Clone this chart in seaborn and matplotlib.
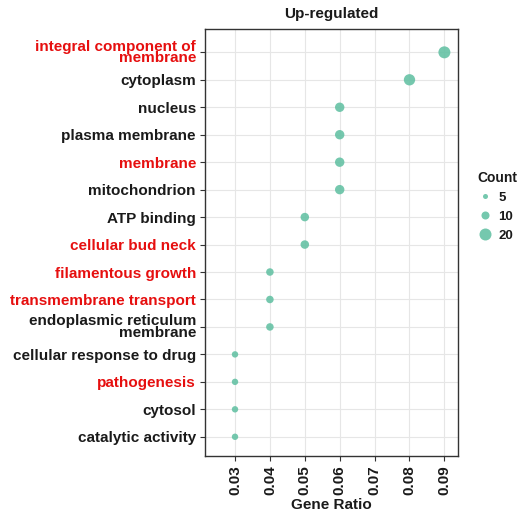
import matplotlib
matplotlib.use("Agg")
import matplotlib.pyplot as plt
from matplotlib.lines import Line2D
import numpy as np
import pandas as pd
import seaborn as sns

# GO terms, top to bottom
terms = [
    "integral component of\nmembrane",
    "cytoplasm",
    "nucleus",
    "plasma membrane",
    "membrane",
    "mitochondrion",
    "ATP binding",
    "cellular bud neck",
    "filamentous growth",
    "transmembrane transport",
    "endoplasmic reticulum\nmembrane",
    "cellular response to drug",
    "pathogenesis",
    "cytosol",
    "catalytic activity",
]
gene_ratio = [0.09, 0.08, 0.06, 0.06, 0.06, 0.06, 0.05, 0.05,
              0.04, 0.04, 0.04, 0.03, 0.03, 0.03, 0.03]
counts = [20, 18, 13, 13, 13, 13, 11, 11, 9, 9, 9, 7, 7, 7, 7]
highlighted = ["integral component of\nmembrane", "membrane", "cellular bud neck",
               "filamentous growth", "transmembrane transport", "pathogenesis"]
legend_counts = [5, 10, 20]
x_ticks = [0.03, 0.04, 0.05, 0.06, 0.07, 0.08, 0.09]

df = pd.DataFrame({"Term": terms, "GeneRatio": gene_ratio, "Count": counts})
df["pos"] = np.arange(len(terms))

sns.set_theme(style="white")
plt.rcParams["font.family"] = ["Liberation Sans", "DejaVu Sans"]
plt.rcParams["font.weight"] = "bold"

point_color = "#66C2A5"
text_color = "#1a1a1a"
red = "#e60f0f"
size_norm = (5, 20)
size_range = (13.0, 74.6)


def area(c):
    return size_range[0] + (c - size_norm[0]) / (size_norm[1] - size_norm[0]) * (size_range[1] - size_range[0])


fig = plt.figure(figsize=(5.18, 5.11), dpi=100)
ax = fig.add_axes([205 / 518, 1 - 456 / 511, (458 - 205) / 518, (456 - 29) / 511])

sns.scatterplot(data=df, x="GeneRatio", y="pos", size="Count",
                sizes=size_range, size_norm=size_norm,
                color=point_color, alpha=0.9, edgecolor="none",
                legend=False, ax=ax, zorder=3)

ax.set_xlim(0.0214, 0.0939)
ax.set_ylim(14.7, -0.85)
ax.set_xticks(x_ticks)
ax.set_xticklabels([f"{v:.2f}" for v in x_ticks], rotation=90, fontsize=11,
                   fontweight="bold", color=text_color)
ax.set_yticks(df["pos"])
ax.set_yticklabels(terms, fontsize=11, fontweight="bold", linespacing=0.75)
for lab in ax.get_yticklabels():
    lab.set_multialignment("right")
    lab.set_color(red if lab.get_text() in highlighted else text_color)

ax.grid(True, color="#e6e6e6", linewidth=0.8, zorder=0)
ax.set_axisbelow(True)
for sp in ax.spines.values():
    sp.set_color("#333333")
    sp.set_linewidth(1.0)
ax.tick_params(axis="both", which="major", length=3.5, width=0.8,
               color="#333333", direction="out", bottom=True, left=True, pad=3)

ax.set_xlabel("Gene Ratio", fontsize=11, fontweight="bold", color=text_color, labelpad=2.5)
ax.set_ylabel("")
ax.set_title("Up-regulated", fontsize=11, fontweight="bold", color=text_color, pad=8)

handles = [Line2D([], [], linestyle="none", marker="o", markersize=np.sqrt(area(c)),
                  markerfacecolor=point_color, markeredgecolor="none", alpha=0.9)
           for c in legend_counts]
leg = fig.legend(handles, [str(c) for c in legend_counts], title="Count",
                 loc="upper left", bbox_to_anchor=(472 / 518, 1 - 166 / 511),
                 frameon=False, fontsize=9.5, title_fontproperties={"weight": "bold", "size": 10},
                 handletextpad=0.4, labelspacing=0.5, borderaxespad=0, handlelength=1.2)
leg._legend_box.align = "left"
for t in leg.get_texts():
    t.set_fontweight("bold")
    t.set_color(text_color)
leg.get_title().set_color(text_color)

fig.savefig("out.png", dpi=100)
